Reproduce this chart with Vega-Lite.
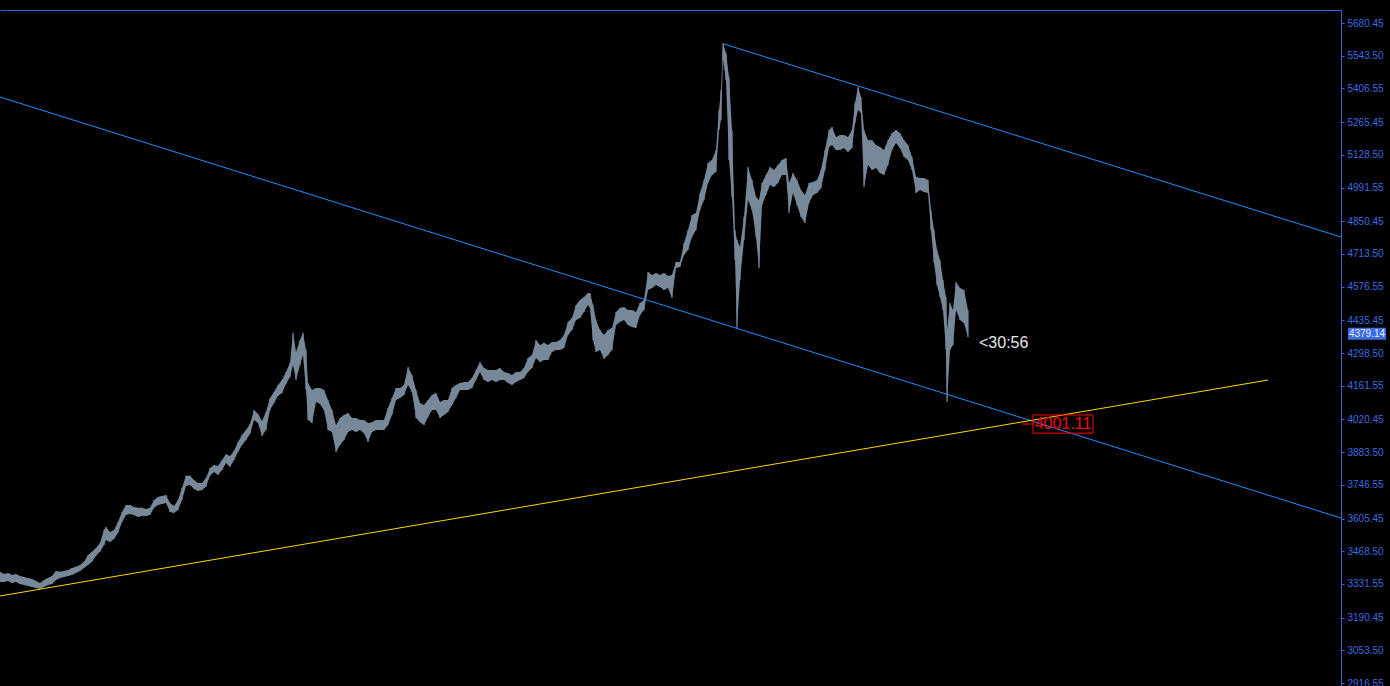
{
  "$schema": "https://vega.github.io/schema/vega-lite/v6.json",
  "width": 1341,
  "height": 676,
  "autosize": {"type": "none"},
  "padding": {"left": 0, "top": 10, "right": 49, "bottom": 0},
  "background": "#000000",
  "config": {"view": {"stroke": null}},
  "datasets": {
    "bars": [
      {"t":0,"hi":3382,"lo":3340},{"t":4,"hi":3373,"lo":3340},{"t":8,"hi":3377,"lo":3344},{"t":12,"hi":3369,"lo":3335},
      {"t":16,"hi":3373,"lo":3340},{"t":20,"hi":3365,"lo":3331},{"t":24,"hi":3361,"lo":3327},{"t":28,"hi":3356,"lo":3323},
      {"t":32,"hi":3352,"lo":3319},{"t":36,"hi":3344,"lo":3314},{"t":40,"hi":3335,"lo":3310},{"t":44,"hi":3348,"lo":3319},
      {"t":48,"hi":3356,"lo":3327},{"t":52,"hi":3365,"lo":3331},{"t":56,"hi":3386,"lo":3348},{"t":60,"hi":3382,"lo":3356},
      {"t":64,"hi":3386,"lo":3361},{"t":68,"hi":3390,"lo":3365},{"t":72,"hi":3398,"lo":3369},{"t":76,"hi":3403,"lo":3377},
      {"t":80,"hi":3411,"lo":3386},{"t":84,"hi":3424,"lo":3398},{"t":88,"hi":3453,"lo":3411},{"t":92,"hi":3466,"lo":3424},
      {"t":96,"hi":3482,"lo":3449},{"t":100,"hi":3503,"lo":3466},{"t":104,"hi":3557,"lo":3495},{"t":106,"hi":3570,"lo":3515},
      {"t":110,"hi":3549,"lo":3507},{"t":114,"hi":3557,"lo":3520},{"t":118,"hi":3591,"lo":3545},{"t":122,"hi":3633,"lo":3591},
      {"t":126,"hi":3662,"lo":3620},{"t":130,"hi":3662,"lo":3624},{"t":134,"hi":3654,"lo":3620},{"t":138,"hi":3650,"lo":3612},
      {"t":142,"hi":3650,"lo":3616},{"t":146,"hi":3645,"lo":3616},{"t":150,"hi":3650,"lo":3620},{"t":154,"hi":3683,"lo":3650},
      {"t":158,"hi":3696,"lo":3662},{"t":162,"hi":3700,"lo":3666},{"t":166,"hi":3704,"lo":3670},{"t":170,"hi":3670,"lo":3633},
      {"t":174,"hi":3658,"lo":3629},{"t":178,"hi":3683,"lo":3641},{"t":182,"hi":3733,"lo":3683},{"t":186,"hi":3784,"lo":3742},
      {"t":190,"hi":3784,"lo":3746},{"t":194,"hi":3767,"lo":3729},{"t":198,"hi":3754,"lo":3721},{"t":202,"hi":3754,"lo":3725},
      {"t":206,"hi":3775,"lo":3738},{"t":210,"hi":3817,"lo":3784},{"t":214,"hi":3830,"lo":3800},{"t":218,"hi":3825,"lo":3788},
      {"t":222,"hi":3850,"lo":3809},{"t":226,"hi":3875,"lo":3838},{"t":230,"hi":3867,"lo":3821},{"t":234,"hi":3888,"lo":3850},
      {"t":238,"hi":3926,"lo":3884},{"t":242,"hi":3955,"lo":3913},{"t":246,"hi":3976,"lo":3934},{"t":250,"hi":4001,"lo":3959},
      {"t":254,"hi":4060,"lo":4018},{"t":258,"hi":4043,"lo":4005},{"t":262,"hi":4014,"lo":3951},{"t":266,"hi":4052,"lo":3976},
      {"t":270,"hi":4110,"lo":4060},{"t":274,"hi":4135,"lo":4089},{"t":278,"hi":4165,"lo":4119},{"t":282,"hi":4185,"lo":4131},
      {"t":286,"hi":4219,"lo":4169},{"t":290,"hi":4257,"lo":4198},{"t":293,"hi":4383,"lo":4248},{"t":296,"hi":4303,"lo":4185},
      {"t":300,"hi":4353,"lo":4248},{"t":303,"hi":4383,"lo":4290},{"t":306,"hi":4311,"lo":4144},{"t":308,"hi":4173,"lo":4018},
      {"t":312,"hi":4144,"lo":4005},{"t":316,"hi":4152,"lo":4093},{"t":320,"hi":4152,"lo":4085},{"t":324,"hi":4144,"lo":4060},
      {"t":328,"hi":4102,"lo":3976},{"t":332,"hi":4060,"lo":3968},{"t":336,"hi":3997,"lo":3884},{"t":340,"hi":4026,"lo":3913},
      {"t":344,"hi":4039,"lo":3934},{"t":348,"hi":4047,"lo":3968},{"t":352,"hi":4026,"lo":3976},{"t":356,"hi":4026,"lo":3968},
      {"t":360,"hi":4018,"lo":3976},{"t":364,"hi":4018,"lo":3963},{"t":368,"hi":4005,"lo":3926},{"t":372,"hi":4009,"lo":3968},
      {"t":376,"hi":4018,"lo":3976},{"t":380,"hi":4018,"lo":3976},{"t":384,"hi":4018,"lo":3976},{"t":388,"hi":4068,"lo":3997},
      {"t":392,"hi":4110,"lo":4039},{"t":396,"hi":4152,"lo":4102},{"t":400,"hi":4152,"lo":4110},{"t":404,"hi":4165,"lo":4123},
      {"t":408,"hi":4240,"lo":4165},{"t":412,"hi":4206,"lo":4135},{"t":416,"hi":4144,"lo":4026},{"t":420,"hi":4089,"lo":4009},
      {"t":424,"hi":4081,"lo":3997},{"t":428,"hi":4102,"lo":4030},{"t":432,"hi":4123,"lo":4060},{"t":436,"hi":4131,"lo":4060},
      {"t":440,"hi":4093,"lo":4026},{"t":444,"hi":4102,"lo":4039},{"t":448,"hi":4102,"lo":4052},{"t":452,"hi":4152,"lo":4081},
      {"t":456,"hi":4165,"lo":4110},{"t":460,"hi":4173,"lo":4144},{"t":464,"hi":4177,"lo":4144},{"t":468,"hi":4177,"lo":4144},
      {"t":472,"hi":4194,"lo":4152},{"t":476,"hi":4227,"lo":4185},{"t":480,"hi":4261,"lo":4219},{"t":484,"hi":4236,"lo":4185},
      {"t":488,"hi":4227,"lo":4177},{"t":492,"hi":4227,"lo":4185},{"t":496,"hi":4227,"lo":4177},{"t":500,"hi":4236,"lo":4185},
      {"t":504,"hi":4219,"lo":4185},{"t":508,"hi":4215,"lo":4173},{"t":512,"hi":4206,"lo":4165},{"t":516,"hi":4219,"lo":4177},
      {"t":520,"hi":4219,"lo":4185},{"t":524,"hi":4236,"lo":4194},{"t":528,"hi":4278,"lo":4219},{"t":532,"hi":4290,"lo":4236},
      {"t":536,"hi":4353,"lo":4278},{"t":540,"hi":4332,"lo":4261},{"t":544,"hi":4341,"lo":4269},{"t":548,"hi":4332,"lo":4269},
      {"t":552,"hi":4345,"lo":4303},{"t":556,"hi":4345,"lo":4311},{"t":560,"hi":4353,"lo":4311},{"t":564,"hi":4374,"lo":4320},
      {"t":568,"hi":4428,"lo":4374},{"t":572,"hi":4445,"lo":4395},{"t":576,"hi":4500,"lo":4437},{"t":580,"hi":4520,"lo":4445},
      {"t":584,"hi":4533,"lo":4470},{"t":588,"hi":4550,"lo":4500},{"t":590,"hi":4550,"lo":4487},{"t":593,"hi":4500,"lo":4353},
      {"t":596,"hi":4437,"lo":4303},{"t":600,"hi":4395,"lo":4311},{"t":604,"hi":4374,"lo":4273},{"t":608,"hi":4395,"lo":4290},
      {"t":612,"hi":4403,"lo":4311},{"t":616,"hi":4470,"lo":4416},{"t":620,"hi":4487,"lo":4428},{"t":624,"hi":4491,"lo":4437},
      {"t":628,"hi":4479,"lo":4416},{"t":632,"hi":4479,"lo":4407},{"t":636,"hi":4470,"lo":4403},{"t":640,"hi":4508,"lo":4458},
      {"t":644,"hi":4520,"lo":4479},{"t":648,"hi":4638,"lo":4562},{"t":652,"hi":4625,"lo":4571},{"t":656,"hi":4634,"lo":4583},
      {"t":660,"hi":4625,"lo":4575},{"t":664,"hi":4634,"lo":4562},{"t":668,"hi":4621,"lo":4571},{"t":672,"hi":4625,"lo":4529},
      {"t":676,"hi":4680,"lo":4655},{"t":680,"hi":4680,"lo":4659},{"t":684,"hi":4759,"lo":4709},{"t":688,"hi":4814,"lo":4730},
      {"t":692,"hi":4877,"lo":4785},{"t":696,"hi":4885,"lo":4814},{"t":700,"hi":4969,"lo":4897},{"t":704,"hi":5023,"lo":4939},
      {"t":708,"hi":5094,"lo":5010},{"t":712,"hi":5107,"lo":5044},{"t":716,"hi":5149,"lo":5057},{"t":719,"hi":5316,"lo":5232},
      {"t":721,"hi":5400,"lo":5274},{"t":723,"hi":5597,"lo":5526},{"t":726,"hi":5555,"lo":5442},{"t":729,"hi":5454,"lo":5107},
      {"t":732,"hi":5232,"lo":4952},{"t":735,"hi":4814,"lo":4688},{"t":737,"hi":4772,"lo":4403},{"t":740,"hi":4743,"lo":4604},
      {"t":744,"hi":4868,"lo":4772},{"t":748,"hi":5077,"lo":4939},{"t":752,"hi":5023,"lo":4897},{"t":756,"hi":4952,"lo":4785},
      {"t":759,"hi":4939,"lo":4654},{"t":762,"hi":5010,"lo":4918},{"t":766,"hi":5044,"lo":4960},{"t":770,"hi":5077,"lo":5002},
      {"t":774,"hi":5065,"lo":4994},{"t":778,"hi":5086,"lo":5010},{"t":782,"hi":5107,"lo":5044},{"t":786,"hi":5115,"lo":5044},
      {"t":789,"hi":5010,"lo":4885},{"t":793,"hi":5052,"lo":4969},{"t":797,"hi":5023,"lo":4918},{"t":801,"hi":4981,"lo":4868},
      {"t":805,"hi":4960,"lo":4843},{"t":809,"hi":5010,"lo":4927},{"t":813,"hi":5015,"lo":4960},{"t":817,"hi":5023,"lo":4969},
      {"t":821,"hi":5065,"lo":4989},{"t":825,"hi":5149,"lo":5065},{"t":829,"hi":5232,"lo":5161},{"t":832,"hi":5245,"lo":5170},
      {"t":836,"hi":5203,"lo":5149},{"t":840,"hi":5211,"lo":5149},{"t":844,"hi":5211,"lo":5157},{"t":848,"hi":5203,"lo":5140},
      {"t":852,"hi":5232,"lo":5157},{"t":855,"hi":5345,"lo":5262},{"t":858,"hi":5413,"lo":5316},{"t":861,"hi":5371,"lo":5304},
      {"t":864,"hi":5232,"lo":4994},{"t":868,"hi":5190,"lo":5086},{"t":872,"hi":5190,"lo":5065},{"t":876,"hi":5170,"lo":5073},
      {"t":880,"hi":5161,"lo":5052},{"t":884,"hi":5149,"lo":5044},{"t":888,"hi":5190,"lo":5086},{"t":892,"hi":5220,"lo":5149},
      {"t":896,"hi":5232,"lo":5178},{"t":900,"hi":5220,"lo":5157},{"t":904,"hi":5190,"lo":5119},{"t":908,"hi":5170,"lo":5107},
      {"t":912,"hi":5119,"lo":5065},{"t":916,"hi":5036,"lo":4969},{"t":920,"hi":5031,"lo":4981},{"t":924,"hi":5031,"lo":4973},
      {"t":928,"hi":5023,"lo":4969},{"t":931,"hi":4897,"lo":4814},{"t":934,"hi":4814,"lo":4676},{"t":937,"hi":4730,"lo":4583},
      {"t":940,"hi":4688,"lo":4533},{"t":943,"hi":4604,"lo":4479},{"t":946,"hi":4533,"lo":4311},{"t":947,"hi":4395,"lo":4093},
      {"t":950,"hi":4508,"lo":4311},{"t":953,"hi":4479,"lo":4332},{"t":956,"hi":4596,"lo":4479},{"t":960,"hi":4571,"lo":4437},
      {"t":964,"hi":4562,"lo":4424},{"t":968,"hi":4479,"lo":4365}
    ],
    "trend": [
      {"name":"lower","t":0,"price":5370.6},{"name":"lower","t":1341,"price":3607.5},
      {"name":"upper","t":724,"price":5592.5},{"name":"upper","t":1341,"price":4784.3},
      {"name":"support","t":0,"price":3280.9},{"name":"support","t":1268,"price":4185.4}
    ]
  },
  "layer": [
    {
      "data": {"name": "bars"},
      "mark": {"type": "area", "color": "#778899", "opacity": 1},
      "encoding": {
        "x": {"field": "t", "type": "quantitative",
              "scale": {"domain": [0, 1341], "nice": false, "zero": false},
              "axis": {"orient": "top", "labels": false, "ticks": false, "grid": false, "title": null, "domainColor": "#3565e0", "domainWidth": 1}},
        "y": {"field": "lo", "type": "quantitative",
              "scale": {"domain": [2904, 5735], "nice": false, "zero": false},
              "axis": {"orient": "right", "title": null, "grid": false, "tickCount": 40,
                       "values": [2916.55, 3053.5, 3190.45, 3331.55, 3468.5, 3605.45, 3746.55, 3883.5, 4020.45, 4161.55, 4298.5, 4435.45, 4576.55, 4713.5, 4850.45, 4991.55, 5128.5, 5265.45, 5406.55, 5543.5, 5680.45],
                       "format": ".2f", "labelFont": "Liberation Sans", "labelFontSize": 10,
                       "labelColor": "#3d6be0", "tickColor": "#3d6be0", "tickSize": 3, "domainColor": "#3565e0",
                       "labelPadding": 3, "labelOverlap": false, "labelBound": false, "labelFlush": false}},
        "y2": {"field": "hi"}
      }
    },
    {
      "data": {"name": "bars"},
      "mark": {"type": "rule", "color": "#778899", "strokeWidth": 1.2},
      "encoding": {
        "x": {"field": "t", "type": "quantitative"},
        "y": {"field": "lo", "type": "quantitative"},
        "y2": {"field": "hi"}
      }
    },
    {
      "data": {"name": "trend"},
      "mark": {"type": "line", "strokeWidth": 1},
      "encoding": {
        "x": {"field": "t", "type": "quantitative"},
        "y": {"field": "price", "type": "quantitative"},
        "detail": {"field": "name"},
        "color": {"field": "name", "type": "nominal",
                  "scale": {"domain": ["lower", "upper", "support"], "range": ["#1e90ff", "#1e90ff", "#ffd700"]},
                  "legend": null}
      }
    },
    {
      "data": {"values": [{"label": "<30:56"}]},
      "mark": {"type": "text", "align": "left", "baseline": "middle", "font": "Liberation Sans", "fontSize": 16, "color": "#e6e6e6"},
      "encoding": {
        "x": {"datum": 979},
        "y": {"datum": 4340},
        "text": {"field": "label"}
      }
    },
    {
      "data": {"values": [{"label": "4001.11"}]},
      "mark": {"type": "rule", "color": "#ff0000", "strokeWidth": 1},
      "encoding": {
        "x": {"datum": 1022},
        "x2": {"datum": 1034},
        "y": {"datum": 4001.11}
      }
    },
    {
      "data": {"values": [{"label": "4001.11"}]},
      "mark": {"type": "rect", "filled": false, "stroke": "#ff0000", "strokeWidth": 1},
      "encoding": {
        "x": {"datum": 1033},
        "x2": {"datum": 1093},
        "y": {"datum": 3963},
        "y2": {"datum": 4039}
      }
    },
    {
      "data": {"values": [{"label": "4001.11"}]},
      "mark": {"type": "text", "align": "center", "baseline": "middle", "font": "Liberation Sans", "fontSize": 16, "color": "#ff0000"},
      "encoding": {
        "x": {"datum": 1063},
        "y": {"datum": 4001.11},
        "text": {"field": "label"}
      }
    },
    {
      "data": {"values": [{"label": "4379.14"}]},
      "mark": {"type": "rect", "color": "#3d6be0", "clip": false},
      "encoding": {
        "x": {"datum": 1348},
        "x2": {"datum": 1386},
        "y": {"datum": 4354},
        "y2": {"datum": 4404}
      }
    },
    {
      "data": {"values": [{"label": "4379.14"}]},
      "mark": {"type": "text", "align": "center", "baseline": "middle", "font": "Liberation Sans", "fontSize": 10, "color": "#e8eef8", "clip": false},
      "encoding": {
        "x": {"datum": 1367},
        "y": {"datum": 4379.14},
        "text": {"field": "label"}
      }
    }
  ]
}
